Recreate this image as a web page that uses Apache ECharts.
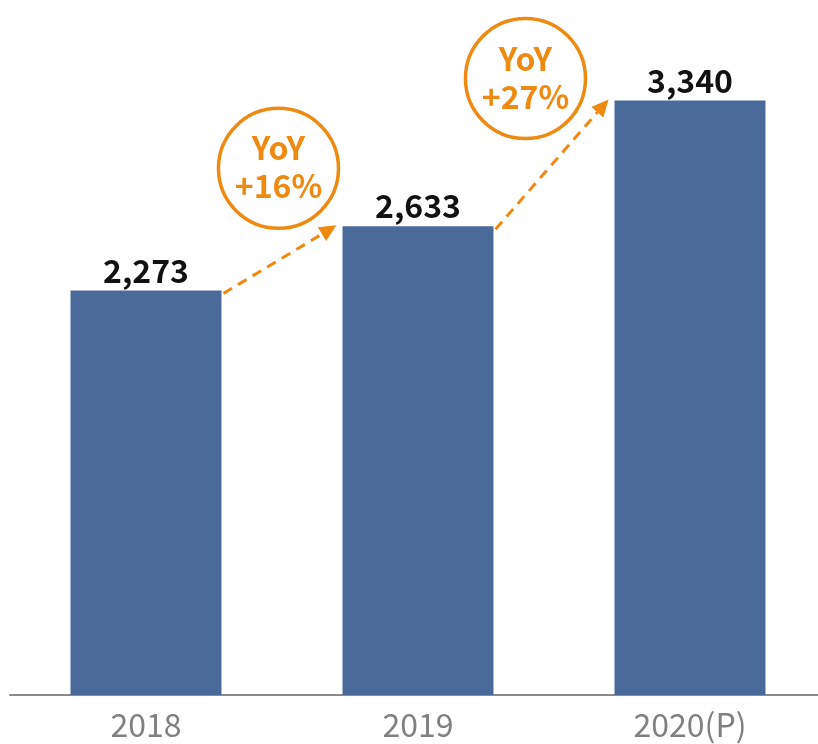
<!DOCTYPE html>
<html>
<head>
    <meta charset="utf-8">
    <title>YoY</title>
    <script src="https://cdn.jsdelivr.net/npm/echarts@6/dist/echarts.min.js"></script>
    <style>
        html, body { margin: 0; padding: 0; background: #ffffff; overflow: hidden; }
        #main { width: 826px; height: 744px; }
    </style>
</head>
<body>
<div id="main"></div>
<script>
    // 데이터
    var years = ['2018', '2019', '2020(P)'];
    var values = [2273, 2633, 3340];
    var yoyLabels = ['+16%', '+27%'];

    var barColor = '#4A6B9A';
    var orange = '#EE8A12';
    var font = '"Noto Sans CJK KR", "Noto Sans", sans-serif';

    var chart = echarts.init(document.getElementById('main'), null, {renderer: 'canvas'});

    var option = {
        animation: false,
        grid: {left: 10, top: 72, right: 0, height: 623, outerBoundsMode: 'none'},
        xAxis: {
            type: 'category',
            data: years,
            axisLine: {lineStyle: {color: '#8a8a8a', width: 2}},
            axisTick: {show: false},
            axisLabel: {color: '#808080', fontSize: 32, fontFamily: font, margin: 14}
        },
        yAxis: {
            type: 'value',
            min: 0,
            max: 3500,
            show: false,
            splitLine: {show: false}
        },
        series: [{
            type: 'bar',
            data: values,
            barWidth: '55.5%',
            itemStyle: {color: barColor},
            label: {
                show: true,
                position: 'top',
                distance: 4,
                color: '#111111',
                fontSize: 32,
                fontWeight: 'bold',
                fontFamily: font,
                formatter: function (p) {
                    return p.value.toLocaleString('en-US');
                }
            }
        }]
    };
    chart.setOption(option);

    // 증감 화살표와 원형 표시
    function px(i, v) {
        return chart.convertToPixel({gridIndex: 0}, [i, v]);
    }
    var band = px(1, 0)[0] - px(0, 0)[0];
    var half = band * 0.555 / 2;
    var circleOffsets = [[57, -58], [32, -22]]; // 원 중심 위치(앞 막대 오른쪽, 다음 막대 상단 기준)
    var graphics = [];
    for (var i = 0; i < values.length - 1; i++) {
        var a = px(i, values[i]);
        var b = px(i + 1, values[i + 1]);
        var x1 = a[0] + half + 2, y1 = a[1] + 3;
        var x2 = b[0] - half - 6, y2 = b[1] - 1;
        var ang = Math.atan2(y2 - y1, x2 - x1);
        var hl = 17, hw = 8;
        var bx = x2 - hl * Math.cos(ang), by = y2 - hl * Math.sin(ang);
        graphics.push({
            type: 'line',
            shape: {x1: x1, y1: y1, x2: bx, y2: by},
            style: {stroke: orange, lineWidth: 3, lineDash: [10, 7]}
        });
        graphics.push({
            type: 'polygon',
            shape: {
                points: [
                    [x2, y2],
                    [bx + hw * Math.sin(ang), by - hw * Math.cos(ang)],
                    [bx - hw * Math.sin(ang), by + hw * Math.cos(ang)]
                ]
            },
            style: {fill: orange}
        });
        var cx = a[0] + half + circleOffsets[i][0];
        var cy = b[1] + circleOffsets[i][1];
        graphics.push({
            type: 'circle',
            shape: {cx: cx, cy: cy, r: 60},
            style: {fill: '#ffffff', stroke: orange, lineWidth: 3.5}
        });
        graphics.push({
            type: 'text',
            x: cx, y: cy - 20,
            style: {
                text: 'YoY', fill: orange, font: 'bold 32px ' + font,
                align: 'center', verticalAlign: 'middle'
            }
        });
        graphics.push({
            type: 'text',
            x: cx, y: cy + 18,
            style: {
                text: yoyLabels[i], fill: orange, font: 'bold 32px ' + font,
                align: 'center', verticalAlign: 'middle'
            }
        });
    }
    chart.setOption({graphic: graphics});
</script>
</body>
</html>
